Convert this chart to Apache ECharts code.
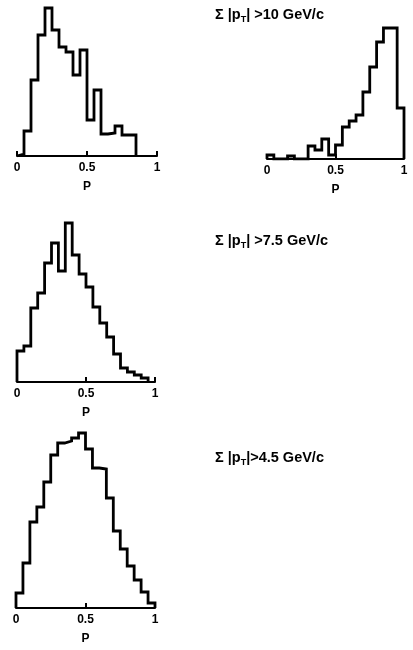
<!DOCTYPE html>
<html>
<head>
<meta charset="utf-8">
<style>
  html, body { margin: 0; padding: 0; background: #fff; }
  #chart { width: 413px; height: 650px; }
</style>
<script src="https://cdn.jsdelivr.net/npm/echarts@6/dist/echarts.min.js"></script>
</head>
<body>
<div id="chart"></div>
<script>
// Histograms of P in bins of 0.05, for three cuts on the summed transverse momentum.
const binWidth = 0.05;
const xTicks = [0, 0.5, 1];

// Σ|pT| > 10 GeV/c (two distributions)
const countsHigh = [2, 25, 76, 121, 148, 126, 109, 104, 81, 106, 36, 66, 22, 23, 30, 21, 21];
const countsHighRight = [4, 0, 0, 3, 0, 0, 13, 9, 20, 4, 14, 32, 38, 44, 67, 92, 117, 131, 131, 51];
// Σ|pT| > 7.5 GeV/c
const countsMid = [31, 36, 74, 89, 119, 139, 111, 159, 127, 108, 95, 75, 59, 45, 28, 14, 10, 7, 4];
// Σ|pT| > 4.5 GeV/c
const countsLow = [15, 45, 86, 101, 126, 153, 165, 167, 170, 175, 159, 140, 139, 110, 77, 59, 42, 28, 16, 5];

const cutLabels = [' >10', ' >7.5', '>4.5'];

const FONT = "'Liberation Sans', Arial, sans-serif";

// Outline of a histogram as a step path from the bin contents.
function stepPath(counts) {
  const pts = [[0, 0]];
  counts.forEach((c, i) => {
    pts.push([i * binWidth, c]);
    pts.push([(i + 1) * binWidth, c]);
  });
  pts.push([counts.length * binWidth, 0]);
  return pts;
}

const panels = [
  { counts: countsHigh,      left: 17,  top: 6,   width: 140, height: 150, yMax: 150 },
  { counts: countsHighRight, left: 267, top: 9,   width: 137, height: 150, yMax: 150 },
  { counts: countsMid,       left: 17,  top: 222, width: 138, height: 160, yMax: 160 },
  { counts: countsLow,       left: 16,  top: 428, width: 139, height: 180, yMax: 180 }
];

const grid = [], xAxis = [], yAxis = [], series = [];
panels.forEach((p, i) => {
  grid.push({ left: p.left, top: p.top, width: p.width, height: p.height, containLabel: false });
  xAxis.push({
    type: 'value', gridIndex: i, min: 0, max: 1,
    name: 'P', nameLocation: 'middle', nameGap: 25,
    nameTextStyle: { fontFamily: FONT, fontWeight: 'bold', fontSize: 12, color: '#000' },
    axisLine: { show: true, onZero: false, lineStyle: { color: '#000', width: 2 } },
    axisTick: { show: true, inside: true, length: 5, customValues: xTicks, lineStyle: { color: '#000', width: 2 } },
    axisLabel: {
      customValues: xTicks, margin: 6,
      fontFamily: FONT, fontWeight: 'bold', fontSize: 12, color: '#000',
      formatter: v => String(v)
    },
    splitLine: { show: false }
  });
  yAxis.push({
    type: 'value', gridIndex: i, min: 0, max: p.yMax,
    show: false, splitLine: { show: false }
  });
  series.push({
    type: 'line', xAxisIndex: i, yAxisIndex: i,
    data: stepPath(p.counts),
    showSymbol: false, symbol: 'none', smooth: false,
    lineStyle: { color: '#000', width: 2.8, join: 'miter' },
    z: 3, animation: false
  });
});

const titleRich = {
  m: { fontFamily: FONT, fontWeight: 'bold', fontSize: 14.5, color: '#000' },
  s: { fontFamily: FONT, fontWeight: 'bold', fontSize: 9, color: '#000', padding: [10, 0, 0, 0] }
};
const titleTops = [0, 226, 443];
const title = cutLabels.map((c, i) => ({
  left: 210, top: titleTops[i],
  text: '{m|Σ |p}{s|T}{m||' + c + ' GeV/c}',
  textStyle: { rich: titleRich }
}));

const chart = echarts.init(document.getElementById('chart'), null, { renderer: 'canvas' });
chart.setOption({
  animation: false,
  backgroundColor: '#fff',
  title, grid, xAxis, yAxis, series
});
</script>
</body>
</html>
